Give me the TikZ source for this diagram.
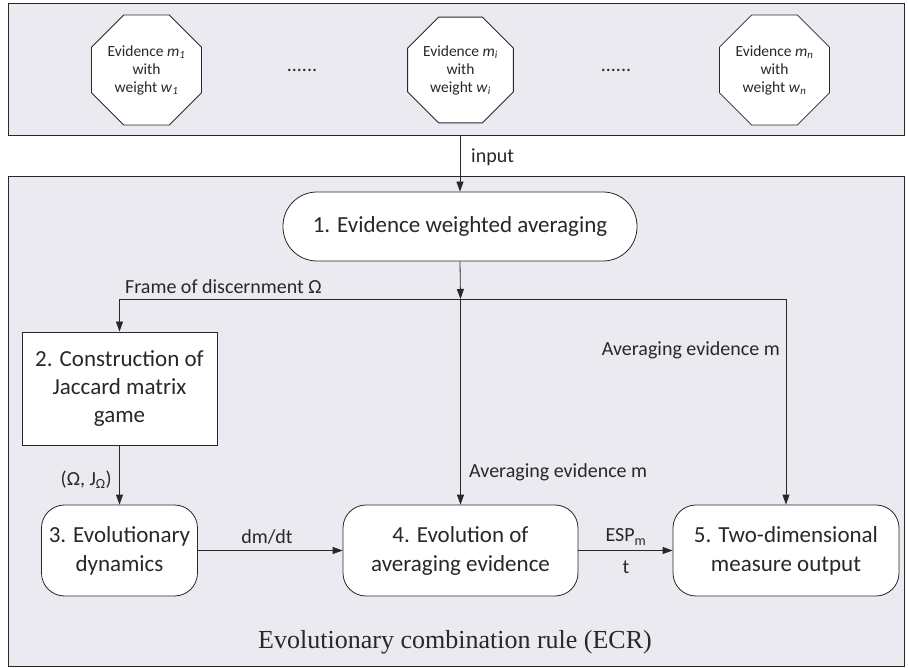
\documentclass[tikz,border=0pt]{standalone}
\usepackage{fontspec}
\setmainfont{Carlito}
\newfontfamily\timesfont{Liberation Serif}
\usetikzlibrary{shapes.geometric,arrows.meta,calc}
\definecolor{panelbg}{RGB}{236,234,241}
\definecolor{ink}{RGB}{40,40,40}
\begin{document}
\begin{tikzpicture}[x=1pt,y=-1pt,
  panel/.style={draw=ink, fill=panelbg, line width=0.9pt, inner sep=0pt},
  octo/.style={regular polygon, regular polygon sides=8, minimum size=99pt, draw=ink, fill=white, inner sep=0pt, align=center, text=ink, font=\fontsize{15.5}{18}\selectfont, line width=0.8pt},
  stadium/.style={draw=ink, fill=white, rounded corners=34pt, minimum width=354pt, minimum height=69pt, text=ink, font=\fontsize{23}{28}\selectfont, line width=0.8pt},
  rbox/.style={draw=ink, fill=white, rounded corners=23pt, minimum height=91pt, align=center, text=ink, font=\fontsize{23}{29}\selectfont, line width=0.8pt},
  sbox/.style={draw=ink, fill=white, align=center, minimum width=195pt, minimum height=113pt, text=ink, font=\fontsize{23}{28}\selectfont, line width=0.8pt},
  lbl/.style={font=\fontsize{20}{24}\selectfont, text=ink, inner sep=0pt},
  dots/.style={font=\fontsize{20}{24}\selectfont, text=ink, inner sep=1pt},
  conn/.style={draw=ink, line width=0.8pt, -{Triangle[length=10pt,width=7pt]}},
  plain/.style={draw=ink, line width=0.8pt},
]
\useasboundingbox (0,0) rectangle (908,668);
% panels
\node[panel, minimum width=896pt, minimum height=132pt] (top) at (456,69) {};
\node[panel, minimum width=896pt, minimum height=490pt] (low) at (456,421) {};
% evidence octagons
\node[octo] (e1) at (146.5,70) {Evidence \textit{m}\textsubscript{\textit{1}}\\with\\weight \textit{w}\textsubscript{\textit{1}}};
\node[octo] (ei) at (460.5,70) {Evidence \textit{m}\textsubscript{\textit{i}}\\with\\weight \textit{w}\textsubscript{\textit{i}}};
\node[octo] (en) at (774.5,70) {Evidence \textit{m}\textsubscript{\textit{n}}\\with\\weight \textit{w}\textsubscript{\textit{n}}};
\node[dots] (d1) at (302,70) {......};
\node[dots] (d2) at (616,70) {......};
% boxes
\node[stadium] (b1) at (460,226.5) {1. Evidence weighted averaging};
\node[sbox] (b2) at (119.5,388.5) {2. Construction of\\Jaccard matrix\\game};
\node[rbox, minimum width=156pt] (b3) at (119.5,550.5) {3. Evolutionary\\dynamics};
\node[rbox, minimum width=235pt] (b4) at (460.5,550.5) {4. Evolution of\\averaging evidence};
\node[rbox, minimum width=226pt] (b5) at (786,550.5) {5. Two-dimensional\\measure output};
% junction
\coordinate (j) at (460.5,299);
% connectors
\draw[conn] (b1.north |- top.south) -- (b1.north);
\draw[conn] (b1.south) -- (j);
\draw[conn] (j) -- (b4.north);
\draw[conn] (j) -- (b2.north |- j) -- (b2.north);
\draw[conn] (j) -- (b5.north |- j) -- (b5.north);
\draw[conn] (b2.south) -- (b3.north);
\draw[conn] (b3.east) -- (b4.west);
\draw[conn] (b4.east) -- (b5.west);
% labels
\node[lbl, anchor=west] (linput) at (471,157) {input};
\node[lbl, anchor=west] (lframe) at (125,287) {Frame of discernment Ω};
\node[lbl, anchor=east] (lavg1) at (780,350) {Averaging evidence m};
\node[lbl, anchor=west] (lavg2) at (469,472) {Averaging evidence m};
\node[lbl, anchor=east] (lomega) at (112,480) {(Ω, J\textsubscript{Ω})};
\node[lbl] (ldm) at (267,537) {dm/dt};
\node[lbl] (lesp) at (626,537) {ESP\textsubscript{m}};
\node[lbl] (lt) at (626,567) {t};
\node[font=\timesfont\fontsize{26}{30}\selectfont, text=ink] (title) at (455,642) {Evolutionary combination rule (ECR)};
\end{tikzpicture}
\end{document}
